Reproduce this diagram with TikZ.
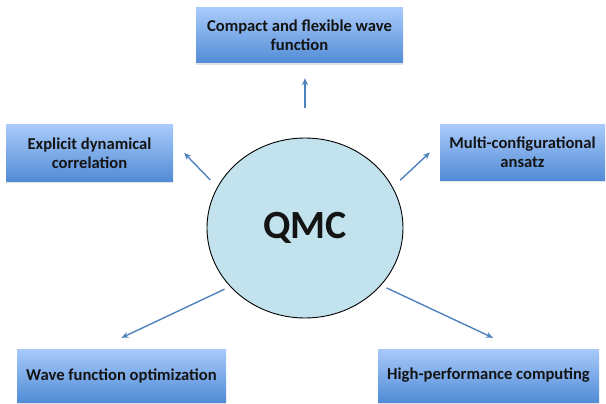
\documentclass[tikz,border=0pt]{standalone}
\usepackage{fontspec}
\setmainfont{Carlito}
\usetikzlibrary{calc}
\usetikzlibrary{shapes.geometric}
\usetikzlibrary{shadows}
\usetikzlibrary{arrows.meta}

\definecolor{boxtop}{RGB}{168,202,250}
\definecolor{boxbot}{RGB}{82,140,214}
\definecolor{hubfill}{RGB}{194,227,238}
\definecolor{linkcol}{RGB}{79,129,189}
\definecolor{ink}{RGB}{20,20,20}

\tikzset{
  topic/.style={rectangle, top color=boxtop, bottom color=boxbot, text=ink,
    font=\fontsize{16.6}{19}\selectfont\bfseries, align=center, inner sep=2pt,
    drop shadow={opacity=0.22, shadow xshift=0pt, shadow yshift=-2pt}},
  hub/.style={ellipse, draw=black, line width=0.9pt, fill=hubfill, text=ink,
    minimum width=196pt, minimum height=180pt, inner sep=0pt,
    font=\fontsize{40}{42}\selectfont\bfseries},
  link/.style={draw=linkcol, line width=1.4pt, -{Stealth[length=7pt,width=6pt]}},
}

\begin{document}
\begin{tikzpicture}[x=1pt, y=-1pt]
    \useasboundingbox (0,0) rectangle (606,404) ;  %

    \node[hub] (qmc) at (305,228) {QMC} ;  %

    \node[topic, minimum width=207pt, minimum height=55pt] (wave) at (299.5,35.5) {Compact and flexible wave\\function} ;  %
    \node[topic, minimum width=167pt, minimum height=56pt] (corr) at (89.5,153) {Explicit dynamical\\correlation} ;  %
    \node[topic, minimum width=165pt, minimum height=55pt] (ansatz) at (522.5,152.5) {Multi-configurational\\ansatz} ;  %
    \node[topic, minimum width=209pt, minimum height=53pt] (optim) at (121.5,375.5) {Wave function optimization} ;  %
    \node[topic, minimum width=221pt, minimum height=53pt] (hpc) at (488.5,375.5) {High-performance computing} ;  %

    \draw[link, shorten <=30pt, shorten >=15pt] (qmc.north) -- (qmc.north |- wave.south) ;  %
    \draw[link, shorten <=10pt] (qmc.155) -- ([xshift=11pt]corr.east) ;  %
    \draw[link, shorten <=10pt] (qmc.25) -- ([xshift=-10pt]ansatz.west) ;  %
    \draw[link, shorten <=6pt] (qmc.218) -- ([yshift=11pt]optim.north) ;  %
    \draw[link, shorten <=6pt] (qmc.-37) -- ([xshift=4.5pt,yshift=11pt]hpc.north) ;  %

\end{tikzpicture}
\end{document}
